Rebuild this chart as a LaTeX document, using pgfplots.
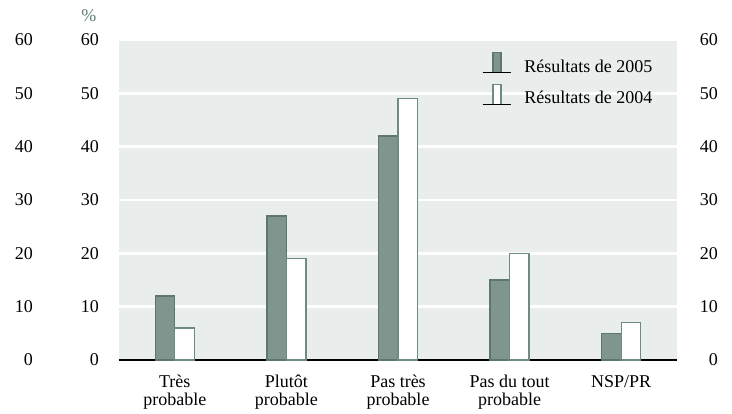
\documentclass[border=0pt]{standalone}
\usepackage{pgfplots}
\pgfplotsset{compat=1.18}
\usepackage{fontspec}
\setmainfont{Liberation Serif}
\definecolor{bgc}{HTML}{E9EDEC}
\definecolor{darkfill}{HTML}{81958F}
\definecolor{darkedge}{HTML}{5C7670}
\definecolor{lightedge}{HTML}{6E8A84}
\definecolor{pctc}{HTML}{5E7E78}
\begin{document}
\fontsize{18}{18}\selectfont
\begin{tikzpicture}
\path[use as bounding box] (0,0) rectangle (732pt,414pt);
% outer left labels
\begin{axis}[
  at={(119pt,54pt)}, anchor=south west,
  scale only axis, width=558pt, height=320pt,
  xmin=-0.5, xmax=4.5, ymin=0, ymax=60,
  hide x axis, axis y line*=left, y axis line style={draw=none},
  ytick={0,10,...,60}, major tick length=0pt,
  yticklabel style={anchor=east, inner sep=0pt, xshift=-86pt},
  /pgf/number format/assume math mode=true,
]
\addplot[draw=none] coordinates {(0,0)};
\end{axis}
% right labels
\begin{axis}[
  at={(119pt,54pt)}, anchor=south west,
  scale only axis, width=558pt, height=320pt,
  xmin=-0.5, xmax=4.5, ymin=0, ymax=60,
  hide x axis, axis y line*=right, y axis line style={draw=none},
  ytick={0,10,...,60}, major tick length=0pt,
  yticklabel style={anchor=east, inner sep=0pt, xshift=41pt},
  /pgf/number format/assume math mode=true,
]
\addplot[draw=none] coordinates {(0,0)};
\end{axis}
% main axis
\begin{axis}[
  at={(119pt,54pt)}, anchor=south west,
  scale only axis, width=558pt, height=320pt,
  xmin=-0.5, xmax=4.5, ymin=0, ymax=60,
  axis background/.style={fill=bgc},
  axis x line*=bottom, axis y line*=left,
  y axis line style={draw=none},
  x axis line style={-, black, line width=1.3pt},
  ytick={0,10,...,60}, major tick length=0pt,
  ymajorgrids, major grid style={white, line width=2.5pt},
  yticklabel style={anchor=east, inner sep=0pt, xshift=-20pt},
  xtick={0,1,2,3,4},
  xticklabels={{Très\\probable},{Plutôt\\probable},{Pas très\\probable},{Pas du tout\\probable},{NSP/PR}},
  xticklabel style={align=center, anchor=north, inner sep=0pt, yshift=-15pt, font=\fontsize{18}{18}\selectfont},
  /pgf/number format/assume math mode=true,
  ybar=0pt, bar width=19.5pt,
  legend style={at={(0.6514,0.9625)}, anchor=north west, draw=none, fill=none,
    inner sep=0pt, outer sep=0pt, row sep=9pt, column sep=13pt,
    nodes={inner sep=0pt, anchor=base west}},
  legend cell align=left,
  legend image code/.code={
    \draw[#1] (-4pt,-0.5pt) rectangle (4pt,19.5pt);
    \draw[black, line width=1pt] (-14pt,-0.5pt) -- (14pt,-0.5pt);
  },
  clip=false,
]
\addplot[fill=darkfill, draw=darkedge, line width=1.3pt] coordinates {(0,12) (1,27) (2,42) (3,15) (4,5)};
\addlegendentry{Résultats de 2005}
\addplot[fill=white, draw=lightedge, line width=1.3pt] coordinates {(0,6) (1,19) (2,49) (3,20) (4,7)};
\addlegendentry{Résultats de 2004}
\node[text=pctc, inner sep=0pt] at (rel axis cs:-0.054,1.075) {\%};
\end{axis}
\end{tikzpicture}
\end{document}
